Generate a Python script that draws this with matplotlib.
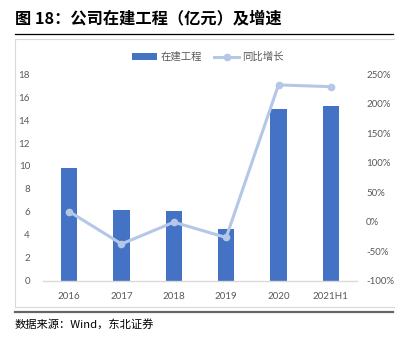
import matplotlib

matplotlib.use("Agg")
import matplotlib.pyplot as plt
from matplotlib.lines import Line2D
from matplotlib.patches import Patch

plt.rcParams["font.family"] = ["Lato", "Noto Sans CJK SC", "DejaVu Sans"]

# 在建工程（亿元）及同比增速
years = ["2016", "2017", "2018", "2019", "2020", "2021H1"]
cip = [9.82, 6.13, 6.06, 4.50, 14.94, 15.26]
yoy = [17, -38, -1, -27, 232, 229]

left_ticks = list(range(0, 19, 2))
right_ticks = list(range(-100, 251, 50))

BAR = "#4472c4"
LINE = "#b4c7e7"
TICK = "#595959"

fig = plt.figure(figsize=(3.95, 3.38), dpi=100)

# title, rules and frame
fig.text(15 / 395, 1 - 18 / 338, "图 18：公司在建工程（亿元）及增速",
         fontsize=11.7, fontweight="bold", family=["Noto Sans CJK SC"],
         ha="left", va="center", color="black")
fig.add_artist(Line2D([15 / 395, 393 / 395], [1 - 34 / 338] * 2,
                      color="black", lw=0.9))
fig.add_artist(Line2D([15 / 395, 15 / 395, 395 / 395],
                      [1 - 307 / 338, 1 - 39 / 338, 1 - 39 / 338],
                      color="#d9d9d9", lw=0.8))
fig.add_artist(Line2D([15 / 395, 395 / 395], [1 - 307 / 338] * 2,
                      color="#d9d9d9", lw=0.8))
fig.add_artist(Line2D([15 / 395, 393 / 395], [1 - 312 / 338] * 2,
                      color="#666666", lw=1.6))
fig.text(15 / 395, 1 - 325 / 338, "数据来源：Wind，东北证券",
         fontsize=8.1, family=["Noto Sans CJK SC"],
         ha="left", va="center", color="black")

ax = fig.add_axes([43 / 395, 1 - 280.5 / 338, 314 / 395, 206.2 / 338])
x = range(len(years))
ax.bar(x, cip, width=0.31, color=BAR, zorder=2)
ax.set_xlim(-0.5, len(years) - 0.5)
ax.set_ylim(0, 18)
ax.set_yticks(left_ticks)
ax.set_xticks(list(x))
ax.set_xticklabels(years)

ax2 = ax.twinx()
ax2.plot(x, yoy, color=LINE, lw=2.2, marker="o", ms=4.5, zorder=3)
ax2.set_ylim(-100, 250)
ax2.set_yticks(right_ticks)
ax2.set_yticklabels(["%d%%" % v for v in right_ticks])

for a in (ax, ax2):
    for s in a.spines.values():
        s.set_visible(False)
    a.tick_params(length=0, labelsize=7, colors=TICK)
ax.spines["bottom"].set_visible(True)
ax.spines["bottom"].set_color("#d9d9d9")
ax.spines["bottom"].set_linewidth(1.0)
ax.tick_params(axis="y", pad=9.4)
ax.tick_params(axis="x", pad=8)
ax2.tick_params(axis="y", pad=6.5)

handles = [Patch(facecolor=BAR), Line2D([], [], color=LINE, lw=2.2,
                                         marker="o", ms=4.5)]
fig.legend(handles, ["在建工程", "同比增长"], loc="center",
           bbox_to_anchor=(208 / 395, 1 - 57 / 338), ncol=2, frameon=False,
           fontsize=7.5, labelcolor=TICK, handlelength=2.4, handleheight=0.6,
           columnspacing=1.2, handletextpad=0.3)

fig.savefig("out.png", dpi=100)
